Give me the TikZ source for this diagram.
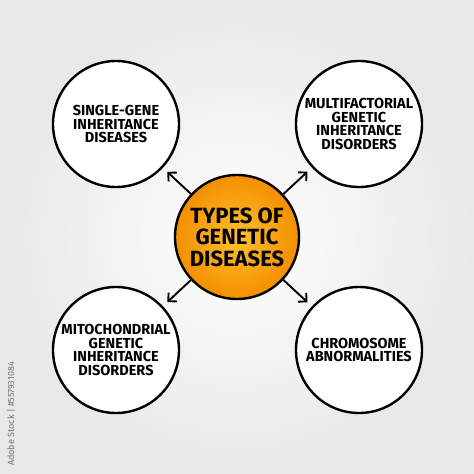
\documentclass[tikz,border=0pt]{standalone}
\usepackage{fontspec}
\setmainfont{Fira Sans}
\usetikzlibrary{positioning,arrows.meta}

\definecolor{bggray}{RGB}{232,232,232}
\definecolor{hubinner}{RGB}{255,192,45}
\definecolor{hubouter}{RGB}{243,143,0}
\definecolor{stockgray}{RGB}{115,115,115}

\begin{document}
\begin{tikzpicture}
[x=1pt, y=1pt, node distance = 113pt and 121pt, on grid,
 hub/.style = {draw, circle, line width=2.4pt, minimum size=124pt, inner sep=0pt,
   inner color=hubinner, outer color=hubouter, align=center,
   font=\bfseries\fontsize{22}{21.5}\selectfont},
 leaf/.style = {draw, circle, line width=2.4pt, minimum size=126pt, inner sep=0pt,
   fill=white, align=center, font=\bfseries\fontsize{14.5}{13.5}\selectfont},
 link/.style = {-{Straight Barb[length=6pt,width=12pt]}, line width=1.9pt, shorten >=6pt}]

\useasboundingbox (-237,-237) rectangle (237,237);
\fill[inner color=white, outer color=bggray] (-237,-237) rectangle (237,237);

\node [hub] (types) at (0,0) {TYPES OF\\GENETIC\\DISEASES};

\node [leaf, above left=of types] (single) {SINGLE-GENE\\INHERITANCE\\DISEASES};
\node [leaf, above right=113pt and 122pt of types] (multi) {MULTIFACTORIAL\\GENETIC\\INHERITANCE\\DISORDERS};
\node [leaf, below left=of types] (mito) {MITOCHONDRIAL\\GENETIC\\INHERITANCE\\DISORDERS};
\node [leaf, below right=113pt and 122pt of types] (chromo) {CHROMOSOME\\ABNORMALITIES};

\node [rotate=90, text=stockgray, font=\fontsize{9}{9}\selectfont] (stock) at (-226,-177) {Adobe Stock | \#557931084};

\draw [link] (types) -- (single);
\draw [link] (types) -- (multi);
\draw [link] (types) -- (mito);
\draw [link] (types) -- (chromo);

\end{tikzpicture}
\end{document}
